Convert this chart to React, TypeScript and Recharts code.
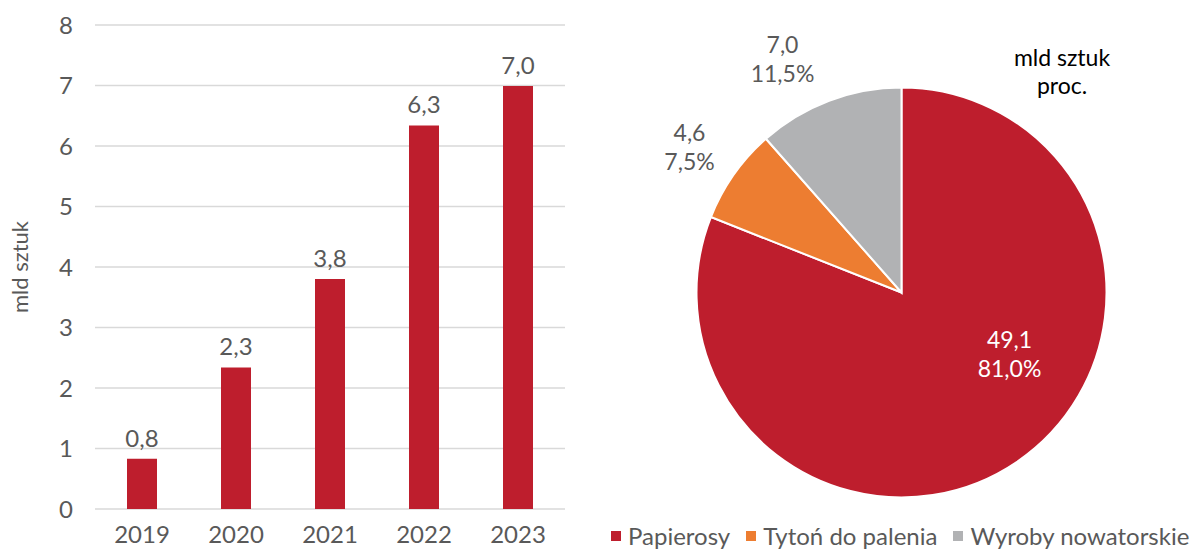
import { BarChart, Bar, XAxis, YAxis, CartesianGrid, LabelList, PieChart, Pie, Cell, Legend } from 'recharts';

// bar chart data (mld sztuk)
const years = ['2019', '2020', '2021', '2022', '2023'];
const yearValues = [0.83, 2.34, 3.8, 6.34, 6.99];
const yTicks = [0, 1, 2, 3, 4, 5, 6, 7, 8];

// pie data
const pieNames = ['Papierosy', 'Tytoń do palenia', 'Wyroby nowatorskie'];
const pieAmounts = [49.1, 4.6, 7.0];
const pieShares = [81.0, 7.5, 11.5];
const pieColors = ['#BE1E2D', '#ED7D31', '#B1B2B4'];

const FONT = 'Lato, "Open Sans", sans-serif';
const TEXT = '#595959';
const FS = 24;

const fmt = (v: number, d = 1) => v.toFixed(d).replace('.', ',');

const barData = years.map((y, i) => ({ year: y, value: yearValues[i] }));
const pieData = pieNames.map((n, i) => ({ name: n, amount: pieAmounts[i], share: pieShares[i] }));

// label offsets from pie centre (Excel "best fit" placement)
const labelOffsets = [
    { dx: 108, dy: 62 },
    { dx: -212, dy: -145 },
    { dx: -119, dy: -233 },
];

const renderPieLabel = (props: any) => {
    const { cx, cy, index } = props;
    const d = pieData[index];
    const o = labelOffsets[index];
    const fill = index === 0 ? '#ffffff' : TEXT;
    return (
        <text x={cx + o.dx} y={cy + o.dy} textAnchor="middle" fill={fill} fontSize={23} fontFamily={FONT}>
            <tspan x={cx + o.dx} dy={-7}>{fmt(d.amount)}</tspan>
            <tspan x={cx + o.dx} dy={29}>{fmt(d.share)}%</tspan>
        </text>
    );
};

const renderLegend = (props: any) => {
    const { payload } = props;
    return (
        <div style={{ display: 'flex', alignItems: 'center', fontSize: FS, fontFamily: FONT, color: TEXT, whiteSpace: 'nowrap' }}>
            {payload.map((p: any) => (
                <div key={p.value} style={{ display: 'flex', alignItems: 'center', marginRight: 16 }}>
                    <span style={{ display: 'inline-block', width: 10, height: 10, background: p.color, marginRight: 7 }} />
                    <span>{p.value}</span>
                </div>
            ))}
        </div>
    );
};

export default function App() {
    return (
        <div style={{ position: 'absolute', left: 0, top: 0, width: 1192, height: 549, background: '#fff', fontFamily: FONT }}>
            <div style={{ position: 'absolute', left: 0, top: 0 }}>
                <BarChart width={580} height={549} data={barData} margin={{ top: 25, right: 15, bottom: 10, left: 0 }}>
                    <CartesianGrid vertical={false} stroke="#D9D9D9" strokeWidth={1.5} />
                    <XAxis
                        dataKey="year"
                        height={30}
                        axisLine={false}
                        tickLine={false}
                        tickMargin={11}
                        tick={{ fill: TEXT, fontSize: FS, fontFamily: FONT }}
                    />
                    <YAxis
                        width={95}
                        domain={[0, 8]}
                        ticks={yTicks}
                        axisLine={false}
                        tickLine={false}
                        tickMargin={16}
                        tick={{ fill: TEXT, fontSize: FS, fontFamily: FONT }}
                        label={{ value: 'mld sztuk', angle: -90, position: 'insideLeft', offset: 20, fill: TEXT, fontSize: 22, fontFamily: FONT, style: { textAnchor: 'middle' } }}
                    />
                    <Bar dataKey="value" fill="#BE1E2D" barSize={30} isAnimationActive={false}>
                        <LabelList dataKey="value" position="top" offset={12} formatter={(v: any) => fmt(Number(v))} fill={TEXT} fontSize={FS} fontFamily={FONT} />
                    </Bar>
                </BarChart>
            </div>
            <div style={{ position: 'absolute', left: 580, top: 0 }}>
                <PieChart width={612} height={549}>
                    <Pie
                        data={pieData}
                        dataKey="share"
                        nameKey="name"
                        cx={316.5}
                        cy={287.5}
                        outerRadius={205}
                        startAngle={90}
                        endAngle={-270}
                        stroke="#ffffff"
                        strokeWidth={2}
                        label={renderPieLabel}
                        labelLine={false}
                        isAnimationActive={false}
                    >
                        {pieData.map((d, i) => (
                            <Cell key={d.name} fill={pieColors[i]} />
                        ))}
                    </Pie>
                    <Legend
                        verticalAlign="bottom"
                        content={renderLegend}
                        wrapperStyle={{ left: 31, top: 521, width: 600 }}
                    />
                </PieChart>
                <div style={{ position: 'absolute', left: 422, top: 43, width: 120, textAlign: 'center', fontSize: 23, lineHeight: '28px', color: '#000' }}>
                    mld sztuk<br />proc.
                </div>
            </div>
        </div>
    );
}
